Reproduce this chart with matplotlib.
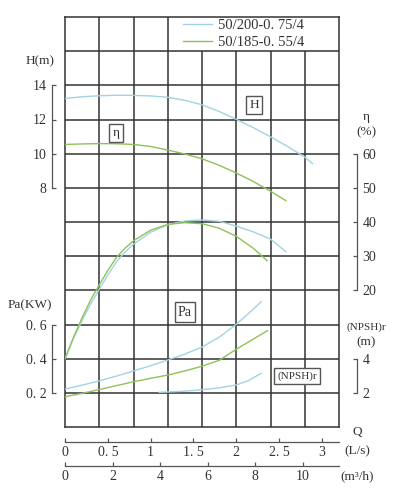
import numpy as np
import matplotlib
matplotlib.use("Agg")
import matplotlib.pyplot as plt

plt.rcParams["font.family"] = ["Liberation Serif", "DejaVu Serif"]

# pump 50/200-0.75/4 (blue) and 50/185-0.55/4 (green), flow Q in L/s
labels = ["50/200-0. 75/4", "50/185-0. 55/4"]

q_h_a = [0, 0.2, 0.4, 0.6, 0.8, 1.0, 1.2, 1.4, 1.6, 1.8, 2.0, 2.2, 2.4, 2.6, 2.8, 2.89]
h_a = [13.23, 13.33, 13.39, 13.42, 13.41, 13.38, 13.30, 13.12, 12.86, 12.47, 12.01, 11.52, 10.99, 10.42, 9.80, 9.42]
q_h_b = [0, 0.2, 0.4, 0.6, 0.8, 1.0, 1.2, 1.4, 1.6, 1.8, 2.0, 2.2, 2.4, 2.58]
h_b = [10.54, 10.57, 10.59, 10.58, 10.54, 10.42, 10.21, 9.98, 9.70, 9.32, 8.87, 8.37, 7.80, 7.25]

q_eta_a = [0, 0.1, 0.2, 0.3, 0.4, 0.5, 0.6, 0.7, 0.8, 1.0, 1.2, 1.4, 1.6, 1.8, 2.0, 2.2, 2.4, 2.58]
eta_a = [0, 6.0, 11.2, 16.0, 20.3, 24.5, 28.3, 31.2, 33.5, 37.0, 39.2, 40.3, 40.6, 40.2, 38.8, 37.1, 35.0, 31.3]
q_eta_b = [0, 0.1, 0.2, 0.3, 0.4, 0.5, 0.6, 0.7, 0.8, 1.0, 1.2, 1.4, 1.6, 1.8, 2.0, 2.2, 2.36]
eta_b = [0, 6.3, 12.0, 17.2, 21.6, 25.8, 29.6, 32.3, 34.5, 37.6, 39.3, 39.8, 39.5, 38.2, 35.8, 32.3, 28.7]

q_pa_a = [0, 0.2, 0.4, 0.6, 0.8, 1.0, 1.2, 1.4, 1.6, 1.8, 2.0, 2.2, 2.29]
pa_a = [0.222, 0.245, 0.270, 0.298, 0.328, 0.359, 0.392, 0.427, 0.468, 0.525, 0.601, 0.69, 0.733]
q_pa_b = [0, 0.2, 0.4, 0.6, 0.8, 1.0, 1.2, 1.4, 1.6, 1.8, 2.0, 2.2, 2.365]
pa_b = [0.177, 0.197, 0.219, 0.242, 0.265, 0.285, 0.304, 0.328, 0.356, 0.39, 0.455, 0.515, 0.564]

q_npsh_a = [1.1, 1.2, 1.4, 1.6, 1.8, 2.0, 2.14, 2.29]
npsh_a = [2.03, 2.05, 2.10, 2.18, 2.29, 2.46, 2.71, 3.14]

BLUE = "#a3d3e2"
GREEN = "#8ec257"
GRID = "#333333"
AX = "#555555"

W, H = 405, 500
L, R, B, T = 65 / W, 339 / W, 1 - 427 / H, 1 - 17 / H
QMAX = 3.2


def px(x, y):
    return x / W, 1 - y / H


fig = plt.figure(figsize=(W / 100, H / 100), dpi=100)
ax = fig.add_axes([L, B, R - L, T - B])
ax.set_xlim(0, QMAX); ax.set_ylim(0, 12)
ax.set_xticks([]); ax.set_yticks([])
for s in ax.spines.values():
    s.set_color(GRID); s.set_linewidth(1.1)
xs = np.arange(0.4, QMAX - 0.01, 0.4)
ax.vlines(xs, 0, [12 if x < 1.3 else 11 for x in xs], color=GRID, lw=1.1)
ax.hlines(np.arange(1, 12), 0, QMAX, color=GRID, lw=1.1)


def overlay(lo, hi):
    a = fig.add_axes(ax.get_position())
    a.set_xlim(0, QMAX); a.set_ylim(lo, hi)
    a.patch.set_visible(False)
    for s in a.spines.values():
        s.set_visible(False)
    a.tick_params(axis="x", bottom=False, labelbottom=False)
    a.tick_params(axis="y", left=False, labelleft=False)
    return a


def side_axis(a, side, bounds, ticks, fmt):
    sp = a.spines[side]
    sp.set_visible(True); sp.set_color(AX); sp.set_linewidth(0.9)
    sp.set_position(("axes", -13 / 274 if side == "left" else 1 + 18 / 274))
    sp.set_bounds(*bounds)
    if side == "right":
        a.yaxis.tick_right()
    a.set_yticks(ticks)
    a.set_yticklabels([fmt(t) for t in ticks])
    a.tick_params(axis="y", direction="in", length=3, width=0.9, color=AX,
                  labelsize=10, pad=4, labelcolor="#333333",
                  left=(side == "left"), labelleft=(side == "left"),
                  right=(side == "right"), labelright=(side == "right"))


lw = 1.0
a_h = overlay(-6, 18)
la, = a_h.plot(q_h_a, h_a, color=BLUE, lw=lw)
lb, = a_h.plot(q_h_b, h_b, color=GREEN, lw=lw)
side_axis(a_h, "left", (8, 14), [8, 10, 12, 14], lambda t: f"{t:d}")

a_e = overlay(-20, 100)
a_e.plot(q_eta_a, eta_a, color=BLUE, lw=lw)
a_e.plot(q_eta_b, eta_b, color=GREEN, lw=lw)
side_axis(a_e, "right", (20, 60), [20, 30, 40, 50, 60], lambda t: f"{t:d}")

a_p = overlay(0, 2.4)
a_p.plot(q_pa_a, pa_a, color=BLUE, lw=lw)
a_p.plot(q_pa_b, pa_b, color=GREEN, lw=lw)
side_axis(a_p, "left", (0.2, 0.6), [0.2, 0.4, 0.6], lambda t: f"{t:.1f}".replace(".", ". "))

a_n = overlay(0, 24)
a_n.plot(q_npsh_a, npsh_a, color=BLUE, lw=lw)
side_axis(a_n, "right", (2, 4), [2, 4], lambda t: f"{t:d}")

a_n.legend([la, lb], labels, loc="upper left", bbox_to_anchor=(0.43, 0.996),
           frameon=False, fontsize=10.5, handlelength=2.0, handletextpad=0.4,
           labelspacing=0.3, borderpad=0, borderaxespad=0, labelcolor="#333333")

# bottom flow scales
def flow_axis(y, xmax, ticks, fmt):
    a = fig.add_axes([L, 1 - y / H, R - L, 0.001])
    a.set_xlim(0, xmax)
    for k, s in a.spines.items():
        s.set_visible(k == "bottom")
    a.spines["bottom"].set_color(AX); a.spines["bottom"].set_linewidth(0.9)
    a.set_yticks([])
    a.set_xticks(ticks)
    a.set_xticklabels([fmt(t) for t in ticks])
    a.tick_params(axis="x", direction="in", length=3, width=0.9, color=AX,
                  labelsize=10, pad=3, labelcolor="#333333")
    return a


flow_axis(442, QMAX, [0, 0.5, 1, 1.5, 2, 2.5, 3],
          lambda t: f"{t:g}".replace(".", ". "))
flow_axis(466, QMAX * 3.6, [0, 2, 4, 6, 8, 10], lambda t: f"{t:d}")

tk = dict(ha="center", va="center", fontsize=9.5, color="#333333")
fig.text(*px(40, 61), "H(m)", **tk)
fig.text(*px(366, 117), "η", **tk)
fig.text(*px(366, 132), "(%)", **tk)
fig.text(*px(30, 305), "Pa(KW)", **tk)
fig.text(*px(366, 327), "(NPSH)r", **dict(tk, fontsize=8))
fig.text(*px(366, 342), "(m)", **tk)
fig.text(*px(357, 432), "Q", **tk)
fig.text(*px(357, 451), "(L/s)", **tk)
fig.text(*px(357, 476), "(m³/h)", **tk)

box = dict(boxstyle="square,pad=0.25", fc="white", ec="#555555", lw=1.0)
fig.text(*px(254, 105), "H", bbox=box, **tk)
fig.text(*px(116, 133), "η", bbox=box, **tk)
fig.text(*px(185, 312), "Pa", bbox=box, **dict(tk, fontsize=10))
fig.text(*px(297, 376), "(NPSH)r", bbox=box, **dict(tk, fontsize=8))

fig.savefig("out.png", dpi=100, facecolor="white")
